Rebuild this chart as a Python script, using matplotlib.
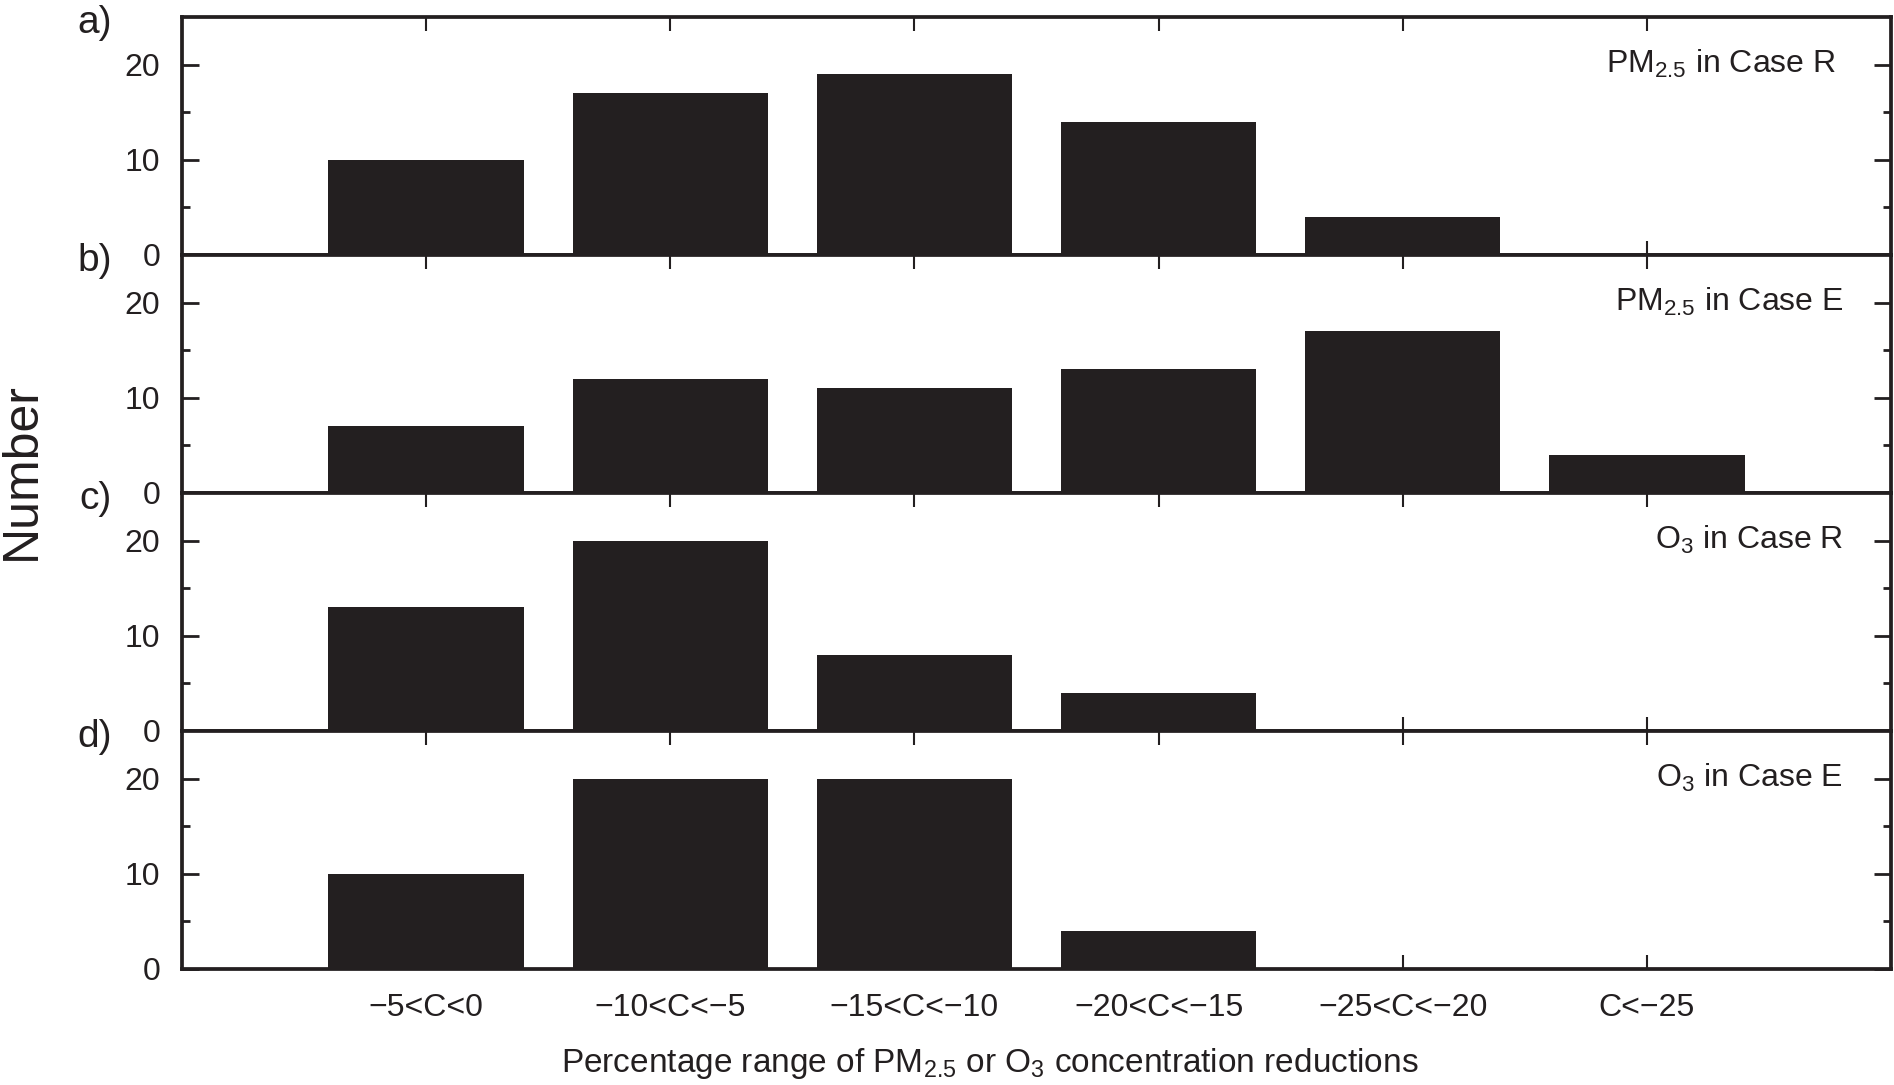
import numpy as np
import matplotlib
matplotlib.use('Agg')
import matplotlib.pyplot as plt

plt.rcParams['font.family'] = ['Liberation Sans', 'DejaVu Sans']
plt.rcParams['mathtext.fontset'] = 'custom'
plt.rcParams['mathtext.rm'] = 'Liberation Sans'
plt.rcParams['mathtext.it'] = 'Liberation Sans:italic'
plt.rcParams['mathtext.bf'] = 'Liberation Sans:bold'
plt.rcParams['mathtext.default'] = 'rm'

# data
categories = ['\u22125<C<0', '\u221210<C<\u22125', '\u221215<C<\u221210',
              '\u221220<C<\u221215', '\u221225<C<\u221220', 'C<\u221225']
pm25_case_r = [10, 17, 19, 14, 4, 0]
pm25_case_e = [7, 12, 11, 13, 17, 4]
o3_case_r = [13, 20, 8, 4, 0, 0]
o3_case_e = [10, 20, 20, 4, 0, 0]

panel_labels = ['a)', 'b)', 'c)', 'd)']
case_labels = ['PM$_{2.5}$ in Case R', 'PM$_{2.5}$ in Case E',
               'O$_3$ in Case R', 'O$_3$ in Case E']
case_x = [0.968, 0.972, 0.972, 0.972]
series = [pm25_case_r, pm25_case_e, o3_case_r, o3_case_e]

ink = '#231f20'
W, H = 1894, 1085
fig = plt.figure(figsize=(W / 100, H / 100), dpi=100)

x = np.arange(1, len(categories) + 1)
left, right = 182 / W, 1891 / W
top, bottom = 1 - 17 / H, 1 - 969 / H
h = (top - bottom) / 4

for i, vals in enumerate(series):
    ax = fig.add_axes([left, top - (i + 1) * h, right - left, h])
    ax.bar(x, vals, width=0.8, color=ink)
    ax.set_xlim(0, 7)
    ax.set_ylim(0, 25)
    ax.set_yticks([0, 10, 20])
    ax.set_yticks([5, 15], minor=True)
    ax.set_xticks(x)
    if i == 3:
        ax.set_xticklabels(categories)
    else:
        ax.set_xticklabels([])
    for s in ax.spines.values():
        s.set_linewidth(2.7)
        s.set_color(ink)
    ax.tick_params(axis='both', which='both', direction='in', color=ink,
                   top=True, right=True, labelcolor=ink, labelsize=23)
    ax.tick_params(axis='y', which='major', length=12, width=2, pad=15.5)
    ax.tick_params(axis='y', which='minor', length=6, width=2)
    ax.tick_params(axis='x', which='major', length=10, width=1.5, pad=17)
    ax.text(-0.041, 0.975, panel_labels[i], transform=ax.transAxes,
            ha='right', va='center', fontsize=28, color=ink, clip_on=False)
    ax.text(case_x[i], 0.764, case_labels[i], transform=ax.transAxes,
            ha='right', va='baseline', fontsize=23, color=ink)

fig.text(22 / W, 1 - 471 / H, 'Number', rotation=90, ha='center',
         va='center', fontsize=36, color=ink)
fig.text(990 / W, 1 - 1072 / H,
         'Percentage range of PM$_{2.5}$ or O$_3$ concentration reductions',
         ha='center', va='baseline', fontsize=24, color=ink)

fig.savefig('out.png', dpi=100)
